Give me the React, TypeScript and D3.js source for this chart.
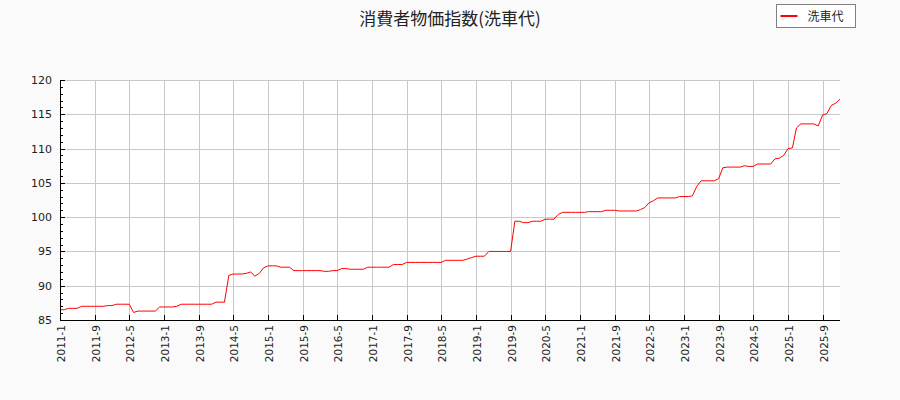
import React from "react";
import * as d3 from "d3";

const WIDTH = 900;
const HEIGHT = 400;
const MARGIN = { top: 80, right: 60, bottom: 80, left: 60 };

const TITLE = "消費者物価指数(洗車代)";
const SERIES_NAME = "洗車代";
const START_MONTH = "2011-01";

// monthly index values, one array per year
const v2011 = [86.5, 86.5, 86.7, 86.7, 86.7, 87.0, 87.0, 87.0, 87.0, 87.0, 87.0, 87.1];
const v2012 = [87.1, 87.3, 87.3, 87.3, 87.3, 86.1, 86.3, 86.3, 86.3, 86.3, 86.3, 86.9];
const v2013 = [86.9, 86.9, 86.9, 87.0, 87.3, 87.3, 87.3, 87.3, 87.3, 87.3, 87.3, 87.3];
const v2014 = [87.6, 87.6, 87.6, 91.5, 91.7, 91.7, 91.7, 91.8, 92.0, 91.4, 91.8, 92.6];
const v2015 = [92.9, 92.9, 92.9, 92.7, 92.7, 92.7, 92.2, 92.2, 92.2, 92.2, 92.2, 92.2];
const v2016 = [92.2, 92.1, 92.1, 92.2, 92.2, 92.5, 92.5, 92.4, 92.4, 92.4, 92.4, 92.7];
const v2017 = [92.7, 92.7, 92.7, 92.7, 92.7, 93.1, 93.1, 93.1, 93.4, 93.4, 93.4, 93.4];
const v2018 = [93.4, 93.4, 93.4, 93.4, 93.4, 93.7, 93.7, 93.7, 93.7, 93.7, 93.9, 94.1];
const v2019 = [94.3, 94.3, 94.3, 95.0, 95.0, 95.0, 95.0, 95.0, 95.0, 99.4, 99.4, 99.2];
const v2020 = [99.2, 99.4, 99.4, 99.4, 99.7, 99.7, 99.7, 100.4, 100.7, 100.7, 100.7, 100.7];
const v2021 = [100.7, 100.7, 100.8, 100.8, 100.8, 100.8, 101.0, 101.0, 101.0, 100.9, 100.9, 100.9];
const v2022 = [100.9, 100.9, 101.1, 101.4, 102.1, 102.4, 102.8, 102.8, 102.8, 102.8, 102.8, 103.0];
const v2023 = [103.0, 103.0, 103.1, 104.5, 105.3, 105.3, 105.3, 105.3, 105.6, 107.2, 107.3, 107.3];
const v2024 = [107.3, 107.3, 107.5, 107.4, 107.4, 107.75, 107.75, 107.75, 107.75, 108.5, 108.6, 109.0];
const v2025 = [110.0, 110.1, 113.0, 113.6, 113.6, 113.6, 113.6, 113.3, 114.9, 115.1, 116.3, 116.6];
const v2026 = [117.2];

const VALUES = [
  ...v2011, ...v2012, ...v2013, ...v2014, ...v2015, ...v2016, ...v2017, ...v2018,
  ...v2019, ...v2020, ...v2021, ...v2022, ...v2023, ...v2024, ...v2025, ...v2026,
];

const Y_DOMAIN: [number, number] = [85, 120];
const Y_TICKS = [85, 90, 95, 100, 105, 110, 115, 120];
const TICK_EVERY_MONTHS = 8;

const FONT = "'DejaVu Sans', 'Noto Sans CJK JP', sans-serif";
const CJK_FONT = "'Noto Sans CJK JP', sans-serif";

export const App = () => {
  const start = d3.timeParse("%Y-%m")(START_MONTH) as Date;
  const data = VALUES.map((v, i) => ({ date: d3.timeMonth.offset(start, i), value: v }));
  const boundsWidth = WIDTH - MARGIN.left - MARGIN.right;
  const boundsHeight = HEIGHT - MARGIN.top - MARGIN.bottom;

  const xScale = d3
    .scaleTime()
    .domain([data[0].date, data[data.length - 1].date])
    .range([0, boundsWidth]);
  const yScale = d3.scaleLinear().domain(Y_DOMAIN).range([boundsHeight, 0]);

  const xTicks = d3
    .range(0, VALUES.length, TICK_EVERY_MONTHS)
    .map((i) => d3.timeMonth.offset(start, i));
  const minorTicks = d3.range(Y_DOMAIN[0], Y_DOMAIN[1] + 1, 1);
  const fmt = (d: Date) => `${d.getFullYear()}-${d.getMonth() + 1}`;

  const line = d3
    .line<{ date: Date; value: number }>()
    .x((d) => xScale(d.date))
    .y((d) => yScale(d.value));

  return (
    <svg
      width={WIDTH}
      height={HEIGHT}
      style={{ display: "block", position: "absolute", left: 0, top: 0, background: "#fafafa" }}
      fontFamily={FONT}
    >
      <text x={450} y={25} textAnchor="middle" fontSize={17} fill="#222" fontFamily={CJK_FONT}>
        {TITLE}
      </text>

      <g transform="translate(776.5,4.5)">
        <rect width={79} height={23} fill="#fff" stroke="#808080" strokeWidth={1} />
        <line x1={4} x2={21} y1={11.5} y2={11.5} stroke="red" strokeWidth={2} />
        <text x={31} y={16} fontSize={12} fill="#222" fontFamily={CJK_FONT}>
          {SERIES_NAME}
        </text>
      </g>

      <g transform={`translate(${MARGIN.left},${MARGIN.top})`}>
        <rect width={boundsWidth} height={boundsHeight} fill="#fff" />
        {Y_TICKS.map((t) => (
          <line
            key={`gy${t}`}
            x1={0}
            x2={boundsWidth}
            y1={Math.round(yScale(t)) + 0.5}
            y2={Math.round(yScale(t)) + 0.5}
            stroke="#c8c8c8"
          />
        ))}
        {xTicks.map((t) => (
          <line
            key={`gx${+t}`}
            x1={Math.round(xScale(t)) + 0.5}
            x2={Math.round(xScale(t)) + 0.5}
            y1={0}
            y2={boundsHeight}
            stroke="#c8c8c8"
          />
        ))}

        <path d={line(data) ?? ""} fill="none" stroke="red" strokeWidth={1} />

        {/* y axis */}
        <line x1={0.5} x2={0.5} y1={0} y2={boundsHeight} stroke="#000" />
        {minorTicks.map((t) => (
          <line
            key={`my${t}`}
            x1={0}
            x2={t % 5 === 0 ? 5 : 3}
            y1={Math.round(yScale(t)) + 0.5}
            y2={Math.round(yScale(t)) + 0.5}
            stroke="#000"
          />
        ))}
        {Y_TICKS.map((t) => (
          <text key={`ly${t}`} x={-8} y={yScale(t) + 4} textAnchor="end" fontSize={11} fill="#222">
            {t}
          </text>
        ))}

        {/* x axis */}
        <line x1={0} x2={boundsWidth} y1={boundsHeight + 0.5} y2={boundsHeight + 0.5} stroke="#000" />
        {xTicks.map((t) => (
          <g key={`lx${+t}`} transform={`translate(${Math.round(xScale(t)) + 0.5},${boundsHeight})`}>
            <line y1={0} y2={-5} stroke="#000" />
            <text transform="translate(4,5) rotate(-90)" textAnchor="end" fontSize={10.5} fill="#222">
              {fmt(t)}
            </text>
          </g>
        ))}
      </g>
    </svg>
  );
};

export default App;
